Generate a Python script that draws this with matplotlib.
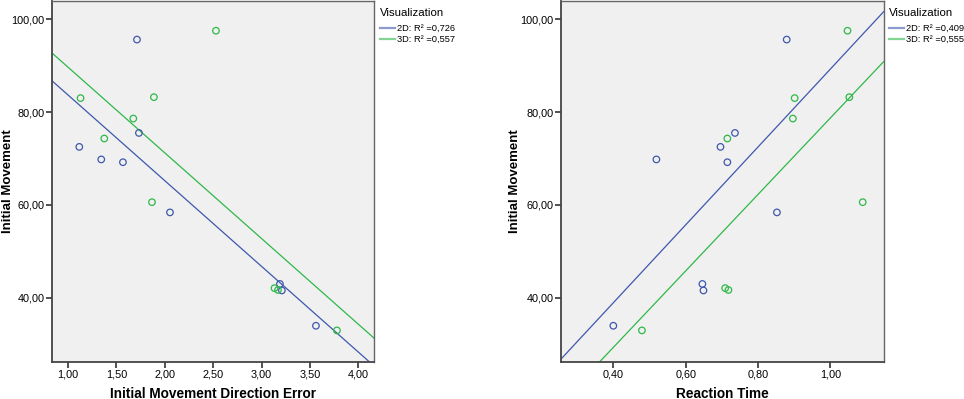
import numpy as np
import matplotlib
matplotlib.use("Agg")
import matplotlib.pyplot as plt
from matplotlib.ticker import FuncFormatter

plt.rcParams['font.family'] = ['Liberation Sans', 'DejaVu Sans']

# initial movement (y) shared by both panels
move_2d = [95.6, 75.5, 72.5, 69.8, 69.2, 58.4, 43.0, 41.6, 34.0]
move_3d = [97.5, 83.0, 83.2, 78.6, 74.3, 60.6, 42.1, 41.7, 33.0]

# left panel: initial movement direction error
dir_err_2d = [1.713, 1.733, 1.117, 1.344, 1.568, 2.054, 3.19, 3.21, 3.562]
dir_err_3d = [2.529, 1.13, 1.888, 1.675, 1.375, 1.868, 3.134, 3.17, 3.779]

# right panel: reaction time
rt_2d = [0.879, 0.736, 0.696, 0.519, 0.715, 0.852, 0.646, 0.649, 0.400]
rt_3d = [1.047, 0.901, 1.052, 0.896, 0.715, 1.089, 0.709, 0.718, 0.479]

r2_left = ["0,726", "0,557"]
r2_right = ["0,409", "0,555"]

BLUE = '#3e58ac'
GREEN = '#2eb848'
comma = FuncFormatter(lambda v, p: f"{v:.2f}".replace('.', ','))


def panel(ax, x2, x3, r2, xlim, xticks, xlabel, ylab_x, leg_x):
    ax.set_facecolor('#f0f0f0')
    ax.set_xlim(*xlim)
    ax.set_ylim(26.2, 103.9)
    lines = []
    for xs, ys, col, lab in ((x2, move_2d, BLUE, "2D: R² =" + r2[0]),
                             (x3, move_3d, GREEN, "3D: R² =" + r2[1])):
        ax.scatter(xs, ys, s=22, facecolors='none', edgecolors=col, linewidths=0.9, zorder=3)
        # least squares fit line drawn across the full axis range
        k, b = np.polyfit(xs, ys, 1)
        gx = np.array(xlim)
        ln, = ax.plot(gx, k * gx + b, color=col, lw=0.9, label=lab)
        lines.append(ln)
    ax.set_xticks(xticks)
    ax.set_yticks([40, 60, 80, 100])
    ax.xaxis.set_major_formatter(comma)
    ax.yaxis.set_major_formatter(comma)
    ax.tick_params(direction='out', length=4, width=1.2, labelsize=7.8,
                   color='#333333', pad=1.5)
    for s in ('left', 'bottom'):
        ax.spines[s].set_color('#444444')
        ax.spines[s].set_linewidth(1.3)
    for s in ('top', 'right'):
        ax.spines[s].set_color('#666666')
        ax.spines[s].set_linewidth(1.0)
    ax.set_xlabel(xlabel, fontsize=9.8, fontweight='bold')
    ax.set_ylabel("Initial Movement", fontsize=9.5, fontweight='bold')
    ax.xaxis.set_label_coords(0.5, -0.068)
    ax.yaxis.set_label_coords(ylab_x, 0.5)

    ax.text(leg_x, 0.968, "Visualization", transform=ax.transAxes,
            fontsize=8.2, va='center', ha='left')
    leg = ax.legend(handles=lines, loc='upper left',
                    bbox_to_anchor=(leg_x, 0.936), frameon=False, fontsize=6.7,
                    handlelength=1.6, handletextpad=0.2, borderpad=0,
                    labelspacing=0.2, borderaxespad=0)
    for h in leg.legend_handles:
        h.set_alpha(0.6)
        h.set_linewidth(1.6)


fig = plt.figure(figsize=(9.64, 3.99), dpi=100)
ax1 = fig.add_axes([52 / 964, 37 / 399, 322 / 964, 361 / 399])
ax2 = fig.add_axes([561 / 964, 37 / 399, 322.7 / 964, 361 / 399])

panel(ax1, dir_err_2d, dir_err_3d, r2_left, (0.835, 4.162),
      [1.0, 1.5, 2.0, 2.5, 3.0, 3.5, 4.0], "Initial Movement Direction Error",
      -0.118, 1.0186)
panel(ax2, rt_2d, rt_3d, r2_right, (0.2554, 1.147),
      [0.4, 0.6, 0.8, 1.0], "Reaction Time", -0.124, 1.0164)

fig.savefig("out.png", dpi=100)
